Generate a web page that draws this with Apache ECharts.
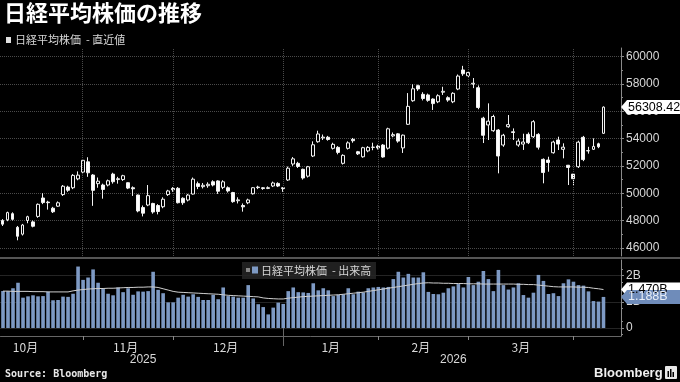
<!DOCTYPE html>
<html><head><meta charset="utf-8">
<script src="https://cdn.jsdelivr.net/npm/echarts@6/dist/echarts.min.js"></script>
<style>html,body{margin:0;padding:0;background:#000;}#c{width:680px;height:382px;}</style>
</head><body><div id="c"></div>
<script>
// ---- data ----
const dates = ['2025-10-08','2025-10-09','2025-10-10','2025-10-14','2025-10-15','2025-10-16','2025-10-17','2025-10-20','2025-10-21','2025-10-22','2025-10-23','2025-10-24','2025-10-27','2025-10-28','2025-10-29','2025-10-30','2025-10-31',
'2025-11-04','2025-11-05','2025-11-06','2025-11-07','2025-11-10','2025-11-11','2025-11-12','2025-11-13','2025-11-14','2025-11-17','2025-11-18','2025-11-19','2025-11-20','2025-11-21','2025-11-25','2025-11-26','2025-11-27','2025-11-28',
'2025-12-01','2025-12-02','2025-12-03','2025-12-04','2025-12-05','2025-12-08','2025-12-09','2025-12-10','2025-12-11','2025-12-12','2025-12-15','2025-12-16','2025-12-17','2025-12-18','2025-12-19','2025-12-22','2025-12-23','2025-12-24','2025-12-25','2025-12-26','2025-12-29','2025-12-30',
'2026-01-05','2026-01-06','2026-01-07','2026-01-08','2026-01-09','2026-01-13','2026-01-14','2026-01-15','2026-01-16','2026-01-19','2026-01-20','2026-01-21','2026-01-22','2026-01-23','2026-01-26','2026-01-27','2026-01-28','2026-01-29','2026-01-30',
'2026-02-02','2026-02-03','2026-02-04','2026-02-05','2026-02-06','2026-02-09','2026-02-10','2026-02-12','2026-02-13','2026-02-16','2026-02-17','2026-02-18','2026-02-19','2026-02-20','2026-02-24','2026-02-25','2026-02-26','2026-02-27',
'2026-03-02','2026-03-03','2026-03-04','2026-03-05','2026-03-06','2026-03-09','2026-03-10','2026-03-11','2026-03-12','2026-03-13','2026-03-16','2026-03-17','2026-03-18','2026-03-19','2026-03-23','2026-03-24','2026-03-25','2026-03-26','2026-03-27','2026-03-30','2026-03-31',
'2026-04-01','2026-04-02','2026-04-03','2026-04-06','2026-04-07','2026-04-08'];
const padDates = ['2026-04-09','2026-04-10','2026-04-13'];

const opens = [48000,48050,48500,47500,47000,48000,47900,48300,49650,49350,48900,49050,49900,50450,50400,51050,51550,
52300,51333,50700,50600,50600,51400,51000,51000,50769,50400,49868,48950,49135,49250,49100,49010,49900,50350,
50360,49630,49500,49940,50700,50480,50550,50840,50900,50430,50400,50050,49450,49100,49300,49960,50450,50400,50350,50530,50720,50400,
50970,52140,52190,51750,51250,52726,53773,54050,54100,53290,53360,52190,53290,53950,53040,52670,53100,53358,53450,
53530,53300,54200,54350,53320,55050,56776,57880,57245,57200,56900,56700,57400,57000,56700,57634,59030,58607,
58000,57730,55500,55000,54580,54630,53530,54870,54500,53530,53600,54312,54140,54310,52480,52430,52967,53900,53217,52050,51400,
51942,54095,53100,53217,53620,54390];
const closes = [47734,48580,48089,46847,47672,48277,47582,49185,49316,49307,48641,49299,50512,50219,51307,51325,52411,
51497,50212,50883,50276,50912,50842,51063,51281,50376,50323,48702,48537,49823,48625,48659,49559,50167,50253,
49303,49303,49864,51028,50491,50581,50655,50602,50148,50836,50168,49383,49512,49001,49507,50402,50412,50344,50407,50750,50526,50339,
51832,52518,51961,51117,51940,53549,54341,54110,53936,53583,52991,52774,53689,53846,52885,53333,53358,53375,53322,
52655,54720,54293,53818,54253,56364,57650,57639,56941,56806,56566,57143,57467,56825,57321,58583,58753,58850,
58057,56279,54245,55278,55620,52728,54248,55025,54452,53819,53751,53700,55239,53373,51515,52252,53749,53603,53373,51885,51063,
53739,52463,53123,53429,53400,56308.42];
const lows = [47600,47950,48000,46550,46900,47800,47500,48200,49200,48800,48550,49000,49800,50100,50300,50950,51400,
51200,49074,50400,49600,50500,50700,50700,50900,50300,49800,48600,48300,49050,48500,48450,48900,49800,50100,
49250,49150,49400,49900,50300,50350,50400,50500,49950,50300,50050,49300,49250,48650,49200,49900,50300,50250,50300,50450,50450,50100,
50900,52000,51850,51000,51150,52650,53700,53900,53850,53200,52850,52100,53200,53700,52800,52600,53000,53150,53200,
52600,53200,54100,53700,52950,55000,56700,57500,56800,56700,56100,56600,57200,56700,56600,57550,58600,58500,
57700,56150,53677,53898,54500,51457,53400,54800,53900,53400,53170,53600,54050,53200,50725,51576,52900,53165,52557,50600,50550,
51850,52350,52900,53165,53300,54350];
const highs = [48100,48650,48600,47600,47750,48350,48000,49250,50000,49450,49000,49400,50600,50550,51400,51600,52500,
52636,51400,51150,50700,51000,51500,51200,51350,50800,50500,49900,49100,50600,49300,49200,49700,50250,50450,
50450,49700,49950,51150,50850,50750,50800,50950,50950,50950,50500,50100,49700,49250,49600,50450,50550,50450,50500,50850,50800,50450,
51950,52650,52300,51800,52000,53800,54580,54300,54200,53700,53450,52850,53800,54050,53100,53400,53450,53700,53550,
53600,54800,54450,54400,54300,57337,57980,57950,57400,57300,56950,57250,57800,57100,57400,58700,59332,58950,
58440,57900,55600,56585,55750,54700,54350,55730,54750,54000,54360,54450,55350,54400,52550,52674,53850,54140,53656,52070,51450,
53850,54200,53400,54020,53700,56360];

// volume in billions of shares
const volumes = [1.415,1.41,1.52,1.73,1.16,1.21,1.25,1.21,1.22,1.39,1.06,1.07,1.2,1.19,1.31,2.35,1.84,
1.93,2.24,1.73,1.49,1.31,1.25,1.55,1.37,1.52,1.27,1.40,1.39,1.41,2.15,1.46,1.33,0.98,0.98,
1.16,1.27,1.2,1.29,1.19,1.07,1.07,1.27,1.1,1.55,1.22,1.2,1.16,1.16,1.64,1.13,0.91,0.80,0.52,0.78,0.97,0.92,
1.41,1.55,1.37,1.36,1.34,1.71,1.44,1.52,1.44,1.22,1.27,1.29,1.52,1.29,1.39,1.36,1.52,1.55,1.57,
1.55,1.57,1.87,2.15,1.93,2.07,1.93,1.93,2.13,1.38,1.30,1.29,1.35,1.52,1.59,1.68,1.55,1.95,
1.64,1.77,2.18,1.87,1.41,2.22,1.64,1.47,1.55,1.71,1.26,1.16,1.35,2.03,1.80,1.30,1.33,1.22,1.71,1.86,1.77,
1.64,1.62,1.40,1.03,1.01,1.188];
const volumeMA = [1.41,1.41,1.40,1.40,1.40,1.40,1.39,1.39,1.39,1.38,1.38,1.38,1.38,1.38,1.42,1.45,1.47,
1.49,1.50,1.51,1.51,1.52,1.52,1.53,1.54,1.55,1.55,1.56,1.56,1.57,1.57,1.55,1.50,1.45,1.40,
1.37,1.36,1.35,1.34,1.33,1.32,1.31,1.30,1.29,1.27,1.25,1.24,1.23,1.22,1.21,1.20,1.19,1.15,1.13,1.12,1.11,1.11,
1.14,1.16,1.18,1.20,1.21,1.22,1.23,1.24,1.25,1.26,1.27,1.29,1.31,1.33,1.35,1.37,1.40,1.43,1.46,
1.49,1.52,1.55,1.58,1.61,1.64,1.67,1.70,1.72,1.73,1.72,1.72,1.71,1.71,1.70,1.70,1.70,1.69,
1.69,1.69,1.68,1.68,1.68,1.68,1.68,1.68,1.68,1.67,1.67,1.66,1.66,1.64,1.62,1.60,1.58,1.57,1.57,1.57,1.57,
1.56,1.56,1.55,1.52,1.50,1.47];

const priceTicks = [46000,48000,50000,52000,54000,56000,58000,60000];
const volumeTicks = [0,1,2];
const monthLabels = {4:'10月',24:'11月',44:'12月',65:'1月',83:'2月',103:'3月'};
const yearLabels = {28:'2025',90:'2026'};
const monthEnds = [16,34,56,75,93,114];
const yearEnd = 56;

// ---- chart ----
const allDates = dates.concat(padDates);
const candles = dates.map((d,i)=>[opens[i],closes[i],lows[i],highs[i]]);
const FONT = '"Liberation Sans", "Noto Sans CJK JP", sans-serif';
const CJK = '"Noto Sans CJK JP", sans-serif';
const chart = echarts.init(document.getElementById('c'));
const axisGray = '#8a8a8a';
const labelColor = '#d8d8d8';

chart.setOption({
  backgroundColor:'#000',
  animation:false,
  textStyle:{fontFamily:FONT},
  grid:[{left:0,top:48,width:621,height:208},{left:0,top:260,width:621,height:76}],
  xAxis:[
    {type:'category',gridIndex:0,data:allDates,boundaryGap:true,axisLine:{show:false},axisTick:{show:false},axisLabel:{show:false},splitLine:{show:false}},
    {type:'category',gridIndex:1,data:allDates,boundaryGap:true,
      axisLine:{show:true,onZero:false,lineStyle:{color:'#666',width:1}},
      axisTick:{show:true,alignWithLabel:true,interval:(i)=>monthEnds.indexOf(i)>=0,length:4,lineStyle:{color:axisGray}},
      axisLabel:{show:true,interval:0,margin:5,color:labelColor,fontSize:12,fontFamily:CJK,
        formatter:(v,i)=>monthLabels[i]?'{m|'+monthLabels[i]+'}':'',
        rich:{m:{padding:[0,0,0,5],color:labelColor,fontSize:12,fontFamily:CJK}}},
      splitLine:{show:false}},
    {type:'category',gridIndex:1,data:allDates,boundaryGap:true,position:'bottom',offset:14,
      axisLine:{show:false},
      axisTick:{show:true,alignWithLabel:true,interval:(i)=>i===yearEnd,length:18,lineStyle:{color:'#666'}},
      axisLabel:{show:true,interval:0,margin:4,color:labelColor,fontSize:12,formatter:(v,i)=>yearLabels[i]||''},
      splitLine:{show:false}}
  ],
  yAxis:[
    {type:'value',gridIndex:0,position:'right',min:45400,max:60640,splitNumber:8,
      axisLine:{show:true,lineStyle:{color:axisGray}},
      axisTick:{show:true,length:3,customValues:priceTicks,lineStyle:{color:axisGray}},
      minorTick:{show:true,splitNumber:2,length:2,lineStyle:{color:axisGray}},
      axisLabel:{customValues:priceTicks,color:labelColor,fontSize:12,margin:5,formatter:(v)=>String(v)},
      splitLine:{show:true,lineStyle:{color:'#4a4a4a',type:'dotted'}}},
    {type:'value',gridIndex:1,position:'right',min:-0.306,max:2.6,
      axisLine:{show:true,lineStyle:{color:axisGray}},
      axisTick:{show:true,length:3,customValues:volumeTicks,lineStyle:{color:axisGray}},
      minorTick:{show:true,splitNumber:2,length:2,lineStyle:{color:axisGray}},
      axisLabel:{customValues:volumeTicks,color:labelColor,fontSize:12,margin:5,formatter:(v)=>v===0?'0':v+'B'},
      splitLine:{show:true,lineStyle:{color:'#4a4a4a',type:'dotted'}}}
  ],
  series:[
    {type:'candlestick',name:'日経平均株価',xAxisIndex:0,yAxisIndex:0,data:candles,barWidth:3.4,
      itemStyle:{color:'#000',color0:'#fff',borderColor:'#f2f2f2',borderColor0:'#f2f2f2',borderWidth:1},
      markLine:{silent:true,symbol:['none','none'],label:{show:false},
        lineStyle:{color:'#4a4a4a',type:'dotted',width:1},
        data:monthEnds.map(i=>({xAxis:dates[i]}))}},
    {type:'bar',name:'出来高',xAxisIndex:1,yAxisIndex:1,data:volumes,barWidth:3.6,
      itemStyle:{color:'#7e9ac4'}},
    {type:'line',name:'出来高MA',xAxisIndex:1,yAxisIndex:1,data:volumeMA,showSymbol:false,
      lineStyle:{color:'#cfcfcf',width:1},z:5}
  ]
});

// value tags on the right axes
const lastClose = closes[closes.length-1];
const lastVol = volumes[volumes.length-1];
const lastMA = volumeMA[volumeMA.length-1];
const pC = chart.convertToPixel({yAxisIndex:0}, lastClose);
const pMA = chart.convertToPixel({yAxisIndex:1}, lastMA);
const pV = chart.convertToPixel({yAxisIndex:1}, lastVol);
function tag(y, txt, fill, txtColor){
  return [
    {type:'polygon',shape:{points:[[621,y],[627,y-7],[680,y-7],[680,y+7],[627,y+7]]},style:{fill:fill},z:100},
    {type:'text',x:628,y:y,style:{text:txt,fill:txtColor,font:'12.5px "Liberation Sans", sans-serif',verticalAlign:'middle'},z:101}
  ];
}
const graphics = [
  {type:'rect',shape:{x:0,y:257,width:680,height:2},style:{fill:'#555'}},
  {type:'text',x:4,y:13,style:{text:'日経平均株価の推移',fill:'#fff',font:'bold 22px "Noto Sans CJK JP", sans-serif',verticalAlign:'middle'}},
  {type:'rect',shape:{x:6,y:37,width:5,height:6},style:{fill:'#e0e0e0'}},
  {type:'text',x:15,y:40,style:{text:'日経平均株価  - 直近値',fill:'#d8d8d8',font:'11px "Noto Sans CJK JP", sans-serif',verticalAlign:'middle'}},
  {type:'rect',shape:{x:242,y:262,width:134,height:17},style:{fill:'rgba(38,38,38,0.85)'},z:50},
  {type:'rect',shape:{x:246,y:268,width:4,height:4},style:{fill:'#888'},z:51},
  {type:'rect',shape:{x:252,y:266.5,width:6,height:7},style:{fill:'#7e9ac4'},z:51},
  {type:'text',x:261,y:270.5,style:{text:'日経平均株価  - 出来高',fill:'#d8d8d8',font:'11px "Noto Sans CJK JP", sans-serif',verticalAlign:'middle'},z:51},
  {type:'text',x:5,y:374,style:{text:'Source: Bloomberg',fill:'#e8e8e8',font:'bold 10px "DejaVu Sans Mono", monospace',verticalAlign:'middle'}},
  {type:'text',x:594,y:373,style:{text:'Bloomberg',fill:'#f0f0f0',font:'bold 13px "Liberation Sans", sans-serif',verticalAlign:'middle'}},
  {type:'rect',shape:{x:665,y:366,width:12,height:13,r:1},style:{fill:'#e8e8e8'}},
  {type:'rect',shape:{x:667.5,y:371,width:1.5,height:6},style:{fill:'#000'}},
  {type:'rect',shape:{x:670,y:369,width:1.5,height:8},style:{fill:'#000'}},
  {type:'rect',shape:{x:672.5,y:372,width:1.5,height:5},style:{fill:'#000'}}
].concat(tag(pC, lastClose.toFixed(2), '#ffffff', '#000'))
 .concat(tag(pMA, lastMA.toFixed(3)+'B', '#ffffff', '#000'))
 .concat(tag(pV, lastVol.toFixed(3)+'B', '#6f8cba', '#e8eef8'));
chart.setOption({graphic:graphics});
</script></body></html>
